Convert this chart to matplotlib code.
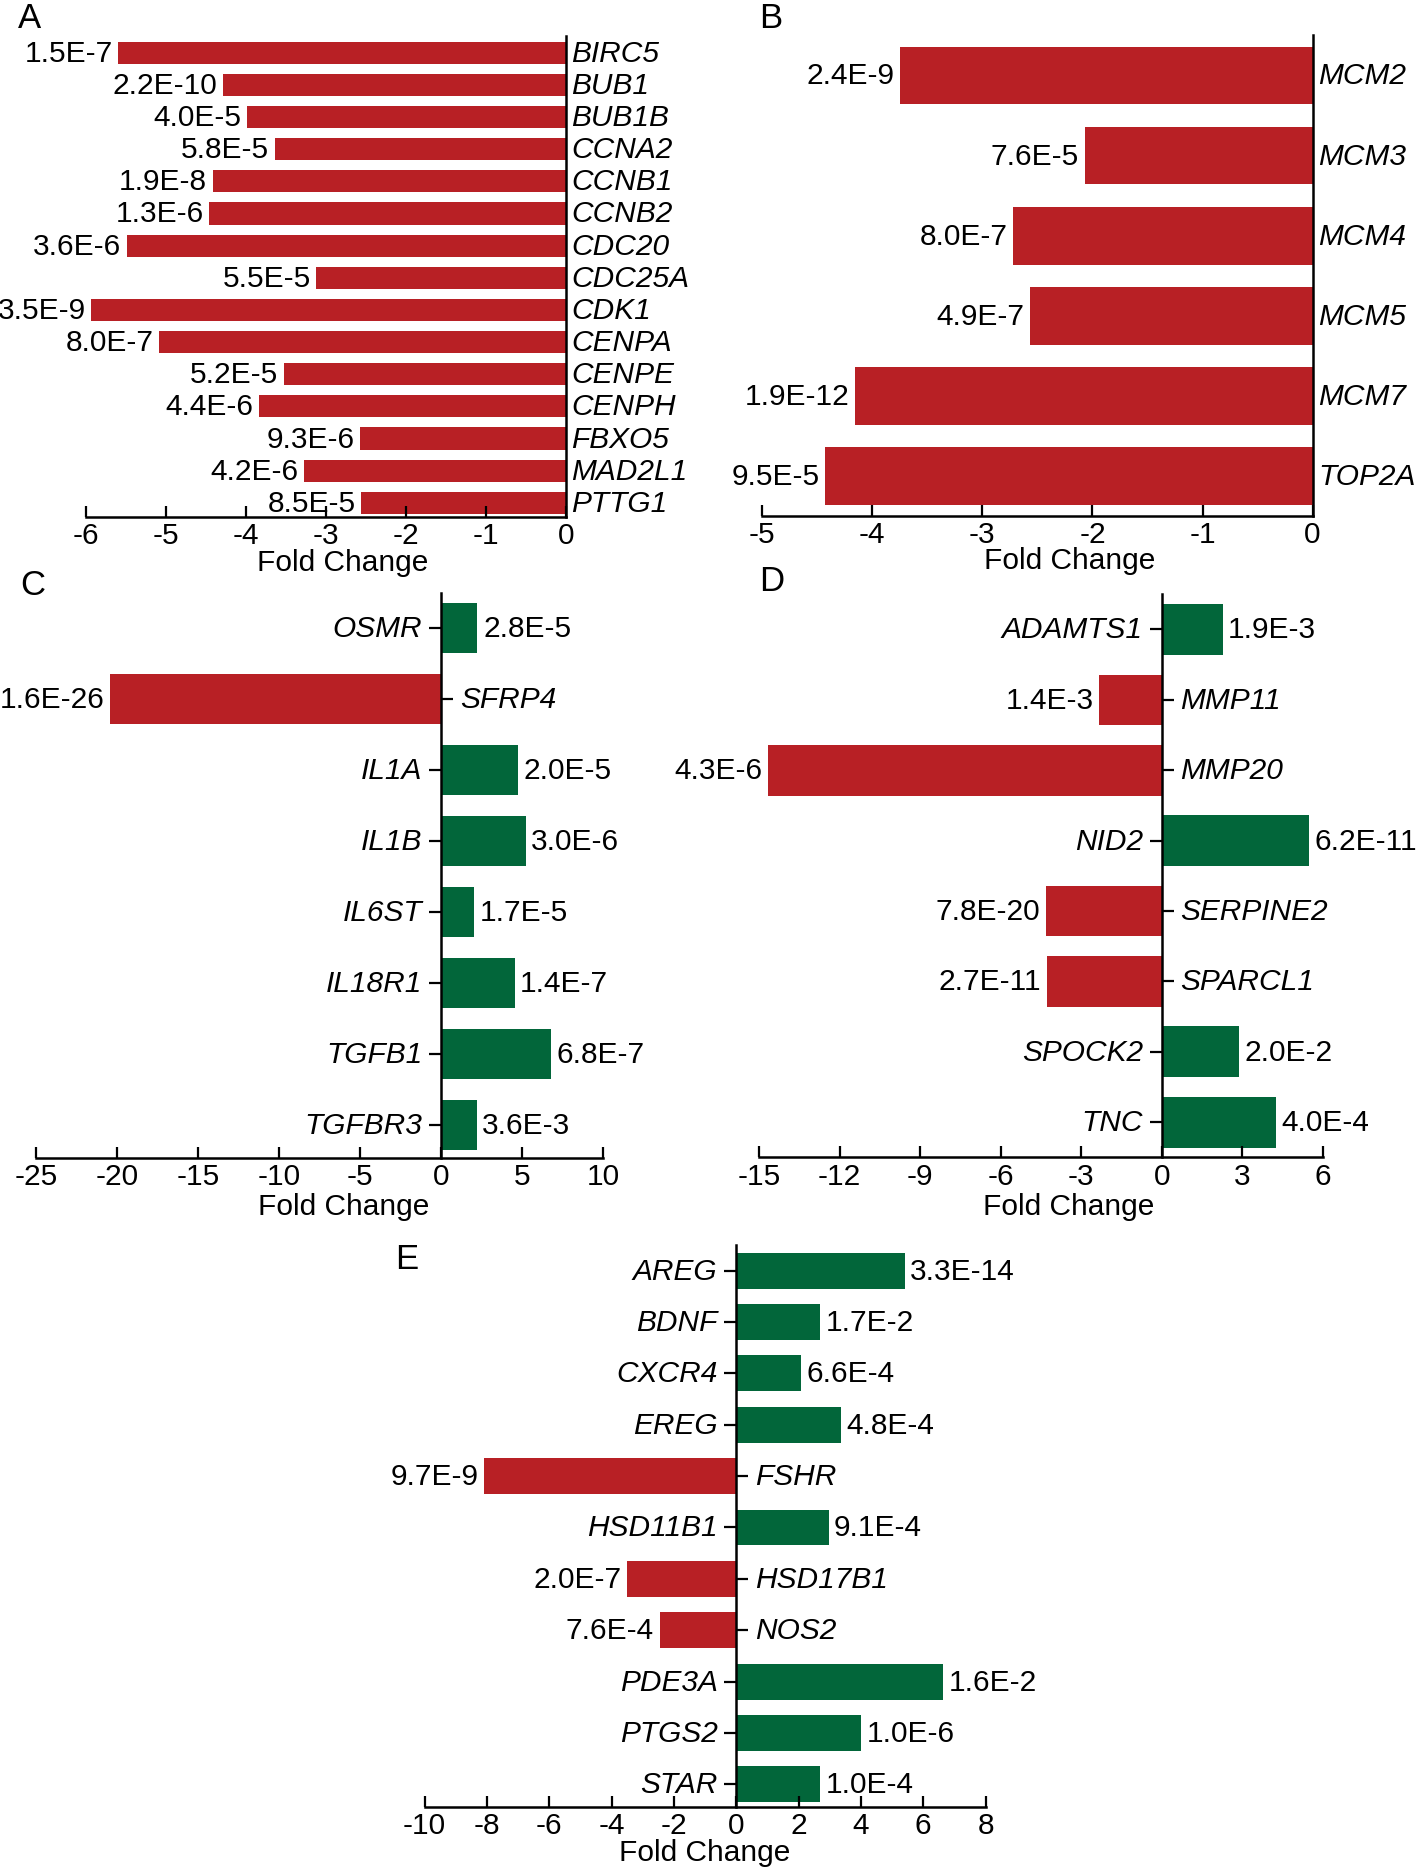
import numpy as np
import matplotlib
matplotlib.use("Agg")
import matplotlib.pyplot as plt

plt.rcParams['font.family'] = ['Liberation Sans', 'DejaVu Sans']

RED = '#B82025'
GREEN = '#02663A'
W, H = 1418, 1874
FS = 21.5

# panel A
genes_a = ['BIRC5', 'BUB1', 'BUB1B', 'CCNA2', 'CCNB1', 'CCNB2', 'CDC20', 'CDC25A',
           'CDK1', 'CENPA', 'CENPE', 'CENPH', 'FBXO5', 'MAD2L1', 'PTTG1']
fc_a = [-5.60, -4.29, -3.99, -3.64, -4.42, -4.46, -5.49, -3.12,
        -5.94, -5.09, -3.53, -3.84, -2.57, -3.28, -2.56]
p_a = ['1.5E-7', '2.2E-10', '4.0E-5', '5.8E-5', '1.9E-8', '1.3E-6', '3.6E-6', '5.5E-5',
       '3.5E-9', '8.0E-7', '5.2E-5', '4.4E-6', '9.3E-6', '4.2E-6', '8.5E-5']

# panel B
genes_b = ['MCM2', 'MCM3', 'MCM4', 'MCM5', 'MCM7', 'TOP2A']
fc_b = [-3.75, -2.07, -2.72, -2.57, -4.16, -4.43]
p_b = ['2.4E-9', '7.6E-5', '8.0E-7', '4.9E-7', '1.9E-12', '9.5E-5']

# panel C
genes_c = ['OSMR', 'SFRP4', 'IL1A', 'IL1B', 'IL6ST', 'IL18R1', 'TGFB1', 'TGFBR3']
fc_c = [2.24, -20.4, 4.73, 5.21, 2.04, 4.53, 6.77, 2.18]
p_c = ['2.8E-5', '1.6E-26', '2.0E-5', '3.0E-6', '1.7E-5', '1.4E-7', '6.8E-7', '3.6E-3']

# panel D
genes_d = ['ADAMTS1', 'MMP11', 'MMP20', 'NID2', 'SERPINE2', 'SPARCL1', 'SPOCK2', 'TNC']
fc_d = [2.27, -2.32, -14.68, 5.49, -4.31, -4.29, 2.89, 4.27]
p_d = ['1.9E-3', '1.4E-3', '4.3E-6', '6.2E-11', '7.8E-20', '2.7E-11', '2.0E-2', '4.0E-4']

# panel E
genes_e = ['AREG', 'BDNF', 'CXCR4', 'EREG', 'FSHR', 'HSD11B1', 'HSD17B1', 'NOS2',
           'PDE3A', 'PTGS2', 'STAR']
fc_e = [5.40, 2.69, 2.08, 3.37, -8.10, 2.96, -3.51, -2.46, 6.64, 4.01, 2.69]
p_e = ['3.3E-14', '1.7E-2', '6.6E-4', '4.8E-4', '9.7E-9', '9.1E-4', '2.0E-7', '7.6E-4',
       '1.6E-2', '1.0E-6', '1.0E-4']


def add_ax(fig, x0, x1, y0, y1):
    return fig.add_axes([x0 / W, 1 - y1 / H, (x1 - x0) / W, (y1 - y0) / H])


def panel(ax, genes, fc, pv, xlim, xticks, top, bot, bh, ticklen, lab_xy):
    y = np.arange(len(genes))
    cols = [RED if v < 0 else GREEN for v in fc]
    bars = ax.barh(y, fc, height=bh, color=cols)
    ax.bar_label(bars, labels=pv, padding=4, fontsize=FS)
    ax.set_xlim(xlim)
    ax.set_ylim(len(genes) - 1 + bot, -top)
    ax.set_xticks(xticks)
    ax.set_xticklabels([str(t) for t in xticks])
    ax.spines['top'].set_visible(False)
    ax.spines['left'].set_position(('data', 0))
    ax.spines['right'].set_position(('data', 0))
    ax.spines['right'].set_visible(False)
    for s in ['left', 'bottom']:
        ax.spines[s].set_linewidth(1.8)
    # up-regulated genes labelled left of the axis, down-regulated right of it
    up = [i for i in y if fc[i] > 0]
    down = [i for i in y if fc[i] < 0]
    ax.set_yticks(up, [genes[i] for i in up])
    ax.set_yticks(down, [genes[i] for i in down], minor=True)
    ax.tick_params(axis='y', which='major', left=True, right=False, labelleft=True,
                   labelright=False, direction='out', length=ticklen, width=1.6,
                   pad=5, labelsize=FS)
    ax.tick_params(axis='y', which='minor', left=False, right=True, labelleft=False,
                   labelright=True, direction='out', length=ticklen, width=1.6,
                   pad=5 if ticklen else 4, labelsize=FS)
    for t in ax.get_yticklabels(which='both'):
        t.set_fontstyle('italic')
        t.set_va('center')
    ax.tick_params(axis='x', direction='in', length=8, width=1.6, pad=3, labelsize=FS)
    ax.set_xlabel('Fold Change', fontsize=FS)
    ax.xaxis.set_label_coords(*lab_xy)


fig = plt.figure(figsize=(W / 100, H / 100), dpi=100)

ax = add_ax(fig, 86.3, 565.7, 37, 518)
panel(ax, genes_a, fc_a, p_a, (-6, 0), [-6, -5, -4, -3, -2, -1, 0], 0.52, 0.44, 0.69, 0,
      (0.534, -31 / 481))
ax = add_ax(fig, 762.3, 1312.6, 36.3, 517.2)
panel(ax, genes_b, fc_b, p_b, (-5, 0), [-5, -4, -3, -2, -1, 0], 0.5, 0.5, 0.72, 0,
      (0.558, -30 / 481))
ax = add_ax(fig, 35.8, 603.3, 594.4, 1159.2)
panel(ax, genes_c, fc_c, p_c, (-25, 10), [-25, -20, -15, -10, -5, 0, 5, 10], 0.49, 0.47, 0.71, 8.5,
      (0.542, -34 / 565))
ax = add_ax(fig, 759.1, 1322.7, 595.3, 1158.4)
panel(ax, genes_d, fc_d, p_d, (-15, 6), [-15, -12, -9, -6, -3, 0, 3, 6], 0.5, 0.5, 0.72, 8.5,
      (0.55, -35 / 563))
ax = add_ax(fig, 424.6, 985.6, 1246.4, 1808)
panel(ax, genes_e, fc_e, p_e, (-10, 8), [-10, -8, -6, -4, -2, 0, 2, 4, 6, 8], 0.49, 0.44, 0.70, 8.5,
      (0.50, -31 / 562))

for letter, x, y in [('A', 18, 27.7), ('B', 759.5, 27.7), ('C', 20.7, 595),
                     ('D', 759.5, 591), ('E', 394.7, 1269)]:
    fig.text(x / W, 1 - y / H, letter, fontsize=25, va='baseline', ha='left')

fig.savefig('out.png', dpi=100)
